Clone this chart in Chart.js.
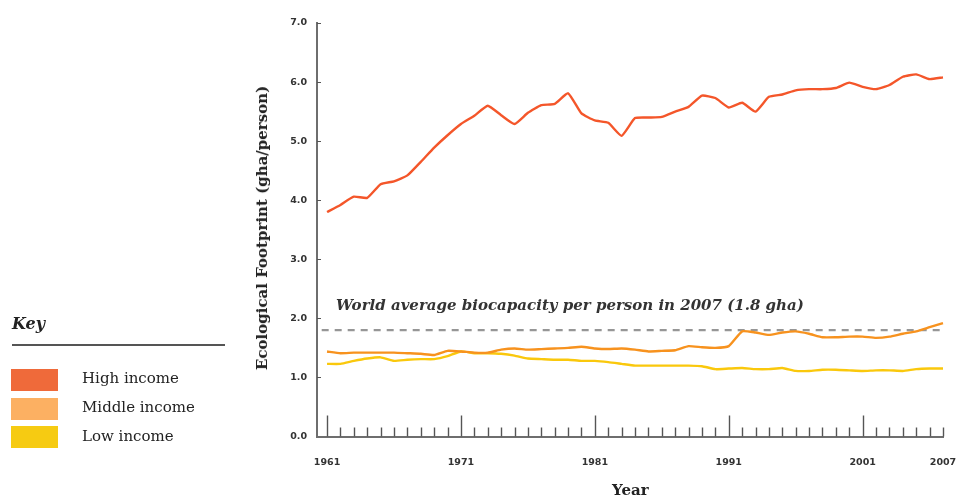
<!DOCTYPE html>
<html>
<head>
<meta charset="utf-8">
<script src="https://cdn.jsdelivr.net/npm/chart.js@4.4.1/dist/chart.umd.min.js"></script>
<style>
  html, body { margin: 0; padding: 0; background: #fff; }
  #wrap { position: relative; width: 957px; height: 500px; overflow: hidden; }
  #wrap canvas { position: absolute; left: 0; top: 0; }
  .txt { position: absolute; font-family: "DejaVu Serif", serif; color: #222; white-space: nowrap; }
  .key-title { left: 12px; top: 314px; font-size: 16px; font-style: italic; font-weight: bold; }
  .key-rule { position: absolute; left: 12px; top: 344px; width: 213px; height: 2px; background: #555; }
  .swatch { position: absolute; left: 11px; width: 47px; height: 22px; }
  .key-label { left: 82px; font-size: 15px; }
  .note { left: 336px; top: 296px; font-size: 15px; font-style: italic; font-weight: bold; color: #333; }
  .xtitle { left: 612px; top: 481px; font-size: 15px; font-weight: bold; }
  .ytitle { left: 262px; top: 228px; font-size: 15px; font-weight: bold;
            transform: translate(-50%, -50%) rotate(-90deg); }
</style>
</head>
<body>
<div id="wrap">
  <canvas id="chart"></canvas>
  <div class="txt key-title">Key</div>
  <div class="key-rule"></div>
  <div class="swatch" style="top:369px;background:#ef6a3a"></div>
  <div class="swatch" style="top:398px;background:#fcb062"></div>
  <div class="swatch" style="top:426px;background:#f6cb12"></div>
  <div class="txt key-label" style="top:369px">High income</div>
  <div class="txt key-label" style="top:398px">Middle income</div>
  <div class="txt key-label" style="top:427px">Low income</div>
  <div class="txt note">World average biocapacity per person in 2007 (1.8 gha)</div>
  <div class="txt xtitle">Year</div>
  <div class="txt ytitle">Ecological Footprint (gha/person)</div>
</div>
<script>
/* ─── Data ───────────────────────────────────────────────────────────────── */
const years = Array.from({ length: 47 }, (_, i) => 1961 + i);

const highIncome = [
  3.80, 3.92, 4.06, 4.04, 4.27, 4.32, 4.42, 4.65, 4.89, 5.10,
  5.29, 5.43, 5.60, 5.44, 5.29, 5.48, 5.61, 5.63, 5.81, 5.47,
  5.35, 5.31, 5.09, 5.39, 5.40, 5.41, 5.50, 5.58, 5.77, 5.73,
  5.57, 5.65, 5.50, 5.75, 5.79, 5.86, 5.88, 5.88, 5.90, 5.99,
  5.92, 5.88, 5.95, 6.09, 6.13, 6.05, 6.08
];
const middleIncome = [
  1.44, 1.41, 1.42, 1.42, 1.42, 1.42, 1.41, 1.40, 1.38, 1.45,
  1.44, 1.42, 1.42, 1.47, 1.49, 1.47, 1.48, 1.49, 1.50, 1.52,
  1.49, 1.48, 1.49, 1.47, 1.44, 1.45, 1.46, 1.53, 1.51, 1.50,
  1.53, 1.78, 1.76, 1.72, 1.76, 1.78, 1.74, 1.68, 1.68, 1.69,
  1.69, 1.67, 1.69, 1.74, 1.78, 1.85, 1.92
];
const lowIncome = [
  1.23, 1.23, 1.28, 1.32, 1.34, 1.28, 1.30, 1.31, 1.31, 1.36,
  1.44, 1.41, 1.41, 1.40, 1.37, 1.32, 1.31, 1.30, 1.30, 1.28,
  1.28, 1.26, 1.23, 1.20, 1.20, 1.20, 1.20, 1.20, 1.19, 1.14,
  1.15, 1.16, 1.14, 1.14, 1.16, 1.11, 1.11, 1.13, 1.13, 1.12,
  1.11, 1.12, 1.12, 1.11, 1.14, 1.15, 1.15
];
const biocapacity = 1.8;
const biocapYears = [1960.6, 2007];
const xLabelYears = [1961, 1971, 1981, 1991, 2001, 2007];
const decadeYears = [1961, 1971, 1981, 1991, 2001];
const yTickValues = [0, 1, 2, 3, 4, 5, 6, 7];

/* ─── Helpers ────────────────────────────────────────────────────────────── */
const toPoints = vals => vals.map((v, i) => ({ x: years[i], y: v }));

/* tick marks standing up from the axes, as in the printed figure */
const axisMarks = {
  id: 'axisMarks',
  beforeDatasetsDraw(chart) {
    const { ctx, scales: { x, y }, chartArea } = chart;
    ctx.save();
    ctx.strokeStyle = '#555';
    ctx.lineWidth = 1.4;
    years.forEach(yr => {
      const px = Math.round(x.getPixelForValue(yr)) + 0.5;
      const len = decadeYears.includes(yr) ? 21 : 9;
      ctx.beginPath();
      ctx.moveTo(px, chartArea.bottom);
      ctx.lineTo(px, chartArea.bottom - len);
      ctx.stroke();
    });
    ctx.lineWidth = 1;
    yTickValues.slice(1).forEach(v => {
      const py = Math.round(y.getPixelForValue(v)) + 0.5;
      ctx.beginPath();
      ctx.moveTo(chartArea.left, py);
      ctx.lineTo(chartArea.left + 4, py);
      ctx.stroke();
    });
    ctx.restore();
  }
};

/* ─── Chart ──────────────────────────────────────────────────────────────── */
const lineStyle = color => ({
  borderColor: color,
  backgroundColor: color,
  borderWidth: 2.4,
  pointRadius: 0,
  tension: 0.15,
  fill: false,
  clip: 4
});

new Chart(document.getElementById('chart'), {
  type: 'line',
  data: {
    datasets: [
      { label: 'High income',   data: toPoints(highIncome),   ...lineStyle('#f4562a') },
      { label: 'Middle income', data: toPoints(middleIncome), ...lineStyle('#f7921e') },
      { label: 'Low income',    data: toPoints(lowIncome),    ...lineStyle('#fac80c') },
      {
        label: 'World average biocapacity',
        data: biocapYears.map(yr => ({ x: yr, y: biocapacity })),
        borderColor: '#969696',
        borderWidth: 2.2,
        borderDash: [7, 6],
        pointRadius: 0,
        fill: false
      }
    ]
  },
  options: {
    responsive: true,
    maintainAspectRatio: false,
    animation: false,
    layout: { padding: { top: 23, right: 14, left: 0, bottom: 0 } },
    plugins: { legend: { display: false }, tooltip: { enabled: false } },
    scales: {
      x: {
        type: 'linear',
        min: 1960.25,
        max: 2007,
        afterFit: s => { s.height = 63.5; s.paddingLeft = 0; s.paddingRight = 0; },
        afterBuildTicks: s => { s.ticks = xLabelYears.map(v => ({ value: v })); },
        grid: { display: false, drawTicks: false },
        border: { display: true, color: '#6e6e6e', width: 2 },
        ticks: {
          autoSkip: false,
          maxRotation: 0,
          padding: 20,
          color: '#333',
          font: { family: 'DejaVu Sans', size: 9.5, weight: 'bold' },
          callback: v => String(v)
        }
      },
      y: {
        min: 0,
        max: 7,
        afterFit: s => { s.width = 317; s.paddingTop = 0; s.paddingBottom = 0; },
        afterBuildTicks: s => { s.ticks = yTickValues.map(v => ({ value: v })); },
        grid: { display: false, drawTicks: false },
        border: { display: true, color: '#6e6e6e', width: 2 },
        ticks: {
          padding: 10,
          color: '#333',
          font: { family: 'DejaVu Sans', size: 9.5, weight: 'bold' },
          callback: v => Number(v).toFixed(1)
        }
      }
    }
  },
  plugins: [axisMarks]
});
</script>
</body>
</html>
